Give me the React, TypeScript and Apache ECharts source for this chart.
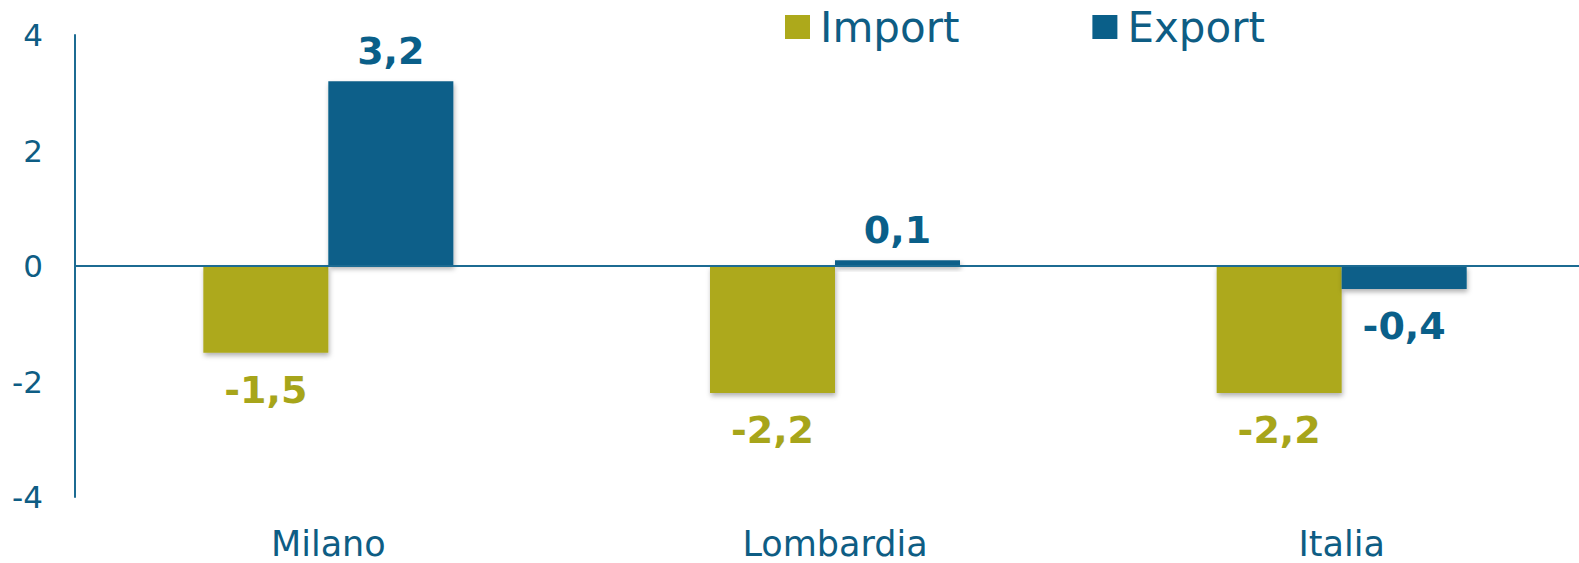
import React, { useEffect, useRef } from "react";
import * as echarts from "echarts";

const categories = ["Milano", "Lombardia", "Italia"];
const importValues = [-1.5, -2.2, -2.2];
const exportValues = [3.2, 0.1, -0.4];
const yTicks = { min: -4, max: 4, interval: 2 };

const TEXT = "#0E5D84";
const AXIS = "#1C6B92";
const IMPORT_COLOR = "#ADA91B";
const IMPORT_LABEL = "#A7A51A";
const EXPORT_COLOR = "#0A5F89";
const FONT = "'DejaVu Sans', Verdana, sans-serif";

const fmt = (p: any) => String(p.value).replace(".", ",");

function toData(values: number[], labelColor: string) {
  return values.map((v) => ({
    value: v,
    label: {
      position: v < 0 ? "bottom" : "top",
      distance: v < 0 ? 18 : 11,
      color: labelColor,
    },
  }));
}

export default function App() {
  const ref = useRef<HTMLDivElement>(null);
  useEffect(() => {
    document.body.style.margin = "0";
    const chart = echarts.init(ref.current!, undefined, { renderer: "svg" });
    const barStyle = (color: string) => ({
      color,
      shadowColor: "rgba(0,0,0,0.3)",
      shadowBlur: 5,
      shadowOffsetY: 3,
      shadowOffsetX: 1,
    });
    chart.setOption({
      animation: false,
      backgroundColor: "#ffffff",
      textStyle: { fontFamily: FONT },
      legend: {
        left: 780,
        top: 1,
        itemWidth: 25,
        itemHeight: 24,
        itemGap: 133,
        textStyle: {
          color: TEXT,
          fontSize: 42,
          fontFamily: FONT,
          padding: [0, 0, 0, 5],
        },
        data: [
          { name: "Import", icon: "rect" },
          { name: "Export", icon: "rect" },
        ],
      },
      grid: {
        left: 75,
        top: 35,
        width: 1520,
        height: 462,
        containLabel: false,
        outerBoundsMode: "none",
      },
      xAxis: {
        type: "category",
        data: categories,
        axisLine: { show: false },
        axisTick: { show: false },
        axisLabel: { color: TEXT, fontSize: 35, margin: 29, fontFamily: FONT },
      },
      yAxis: {
        type: "value",
        min: yTicks.min,
        max: yTicks.max,
        interval: yTicks.interval,
        splitLine: { show: false },
        axisTick: { show: false },
        axisLine: { show: true, lineStyle: { color: AXIS, width: 2 } },
        axisLabel: { color: TEXT, fontSize: 31, margin: 32, fontFamily: FONT },
      },
      series: [
        {
          name: "Import",
          type: "bar",
          barWidth: 125,
          barGap: "0%",
          itemStyle: barStyle(IMPORT_COLOR),
          label: {
            show: true,
            formatter: fmt,
            fontSize: 38,
            fontWeight: "bold",
            fontFamily: FONT,
          },
          data: toData(importValues, IMPORT_LABEL),
          markLine: {
            silent: true,
            symbol: "none",
            label: { show: false },
            lineStyle: { color: AXIS, width: 2, type: "solid" },
            data: [{ yAxis: 0 }],
          },
        },
        {
          name: "Export",
          type: "bar",
          barWidth: 125,
          barGap: "0%",
          itemStyle: barStyle(EXPORT_COLOR),
          label: {
            show: true,
            formatter: fmt,
            fontSize: 38,
            fontWeight: "bold",
            fontFamily: FONT,
          },
          data: toData(exportValues, EXPORT_COLOR),
        },
      ],
    });
    return () => chart.dispose();
  }, []);
  return (
    <div
      ref={ref}
      style={{ width: 1579, height: 563, position: "absolute", left: 0, top: 0 }}
    />
  );
}
